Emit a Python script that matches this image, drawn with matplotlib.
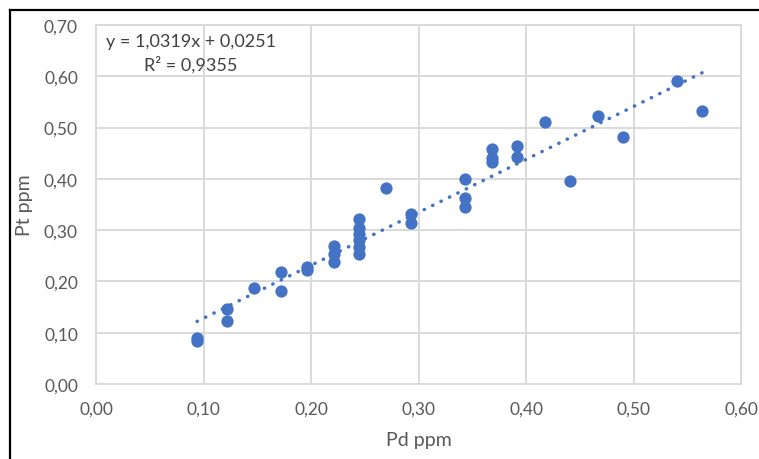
import matplotlib
matplotlib.use('Agg')
import matplotlib.pyplot as plt
from matplotlib.ticker import FuncFormatter
import numpy as np

plt.rcParams['font.family'] = ['Lato', 'DejaVu Sans']

# Pd / Pt values
pd_ppm = [0.094, 0.094, 0.122, 0.122, 0.147, 0.172, 0.172, 0.196, 0.196,
          0.221, 0.221, 0.221, 0.245, 0.245, 0.245, 0.245, 0.245, 0.245,
          0.270, 0.293, 0.293, 0.343, 0.343, 0.343, 0.368, 0.368, 0.368,
          0.392, 0.392, 0.418, 0.441, 0.467, 0.490, 0.540, 0.564]
pt_ppm = [0.090, 0.084, 0.146, 0.122, 0.188, 0.219, 0.181, 0.222, 0.228,
          0.270, 0.253, 0.237, 0.322, 0.305, 0.292, 0.281, 0.267, 0.253,
          0.382, 0.331, 0.313, 0.400, 0.362, 0.346, 0.458, 0.440, 0.432,
          0.464, 0.442, 0.510, 0.396, 0.523, 0.481, 0.590, 0.532]

slope = 1.0319
intercept = 0.0251

x_ticks = [0.0, 0.1, 0.2, 0.3, 0.4, 0.5, 0.6]
y_ticks = [0.0, 0.1, 0.2, 0.3, 0.4, 0.5, 0.6, 0.7]

blue = '#4472C4'
grid_c = '#d9d9d9'
txt_c = '#595959'

fig = plt.figure(figsize=(7.59, 4.6), dpi=100)
ax = fig.add_axes([0.1265, 0.163, 0.8498, 0.7805])

ax.scatter(pd_ppm, pt_ppm, s=78, color=blue, zorder=3, linewidths=0)

# linear trendline over the data range
xs = np.array([min(pd_ppm), max(pd_ppm)])
ax.plot(xs, slope * xs + intercept, color=blue, linewidth=2.5,
        linestyle=(0, (0.1, 2.6)), dash_capstyle='round', zorder=2)

ax.set_xlim(0, 0.6)
ax.set_ylim(0, 0.7)
ax.set_xticks(x_ticks)
ax.set_yticks(y_ticks)
fmt = FuncFormatter(lambda v, p: f'{v:.2f}'.replace('.', ','))
ax.xaxis.set_major_formatter(fmt)
ax.yaxis.set_major_formatter(fmt)
ax.tick_params(axis='both', length=0, labelsize=12.5, labelcolor=txt_c)
ax.tick_params(axis='y', pad=13)
ax.tick_params(axis='x', pad=12)
ax.grid(True, color=grid_c, linewidth=1.4)
ax.set_axisbelow(True)
for sp in ax.spines.values():
    sp.set_color(grid_c)
    sp.set_linewidth(1.4)

ax.set_xlabel('Pd ppm', fontsize=14, color=txt_c, labelpad=10)
ax.set_ylabel('Pt ppm', fontsize=14, color=txt_c, labelpad=8)

ax.text(0.147, 0.955, 'y = 1,0319x + 0,0251', transform=ax.transAxes,
        ha='center', va='center', fontsize=13, color='#404040')
ax.text(0.147, 0.891, 'R² = 0,9355', transform=ax.transAxes,
        ha='center', va='center', fontsize=13, color='#404040')

# black frame of the screenshot (left and top edges)
fig.add_artist(plt.Line2D([10 / 759, 10 / 759], [0, 1 - 11 / 460],
                          transform=fig.transFigure, color='black', linewidth=1.6))
fig.add_artist(plt.Line2D([10 / 759, 1], [1 - 11 / 460, 1 - 11 / 460],
                          transform=fig.transFigure, color='black', linewidth=1.6))

fig.savefig('out.png', dpi=100)
